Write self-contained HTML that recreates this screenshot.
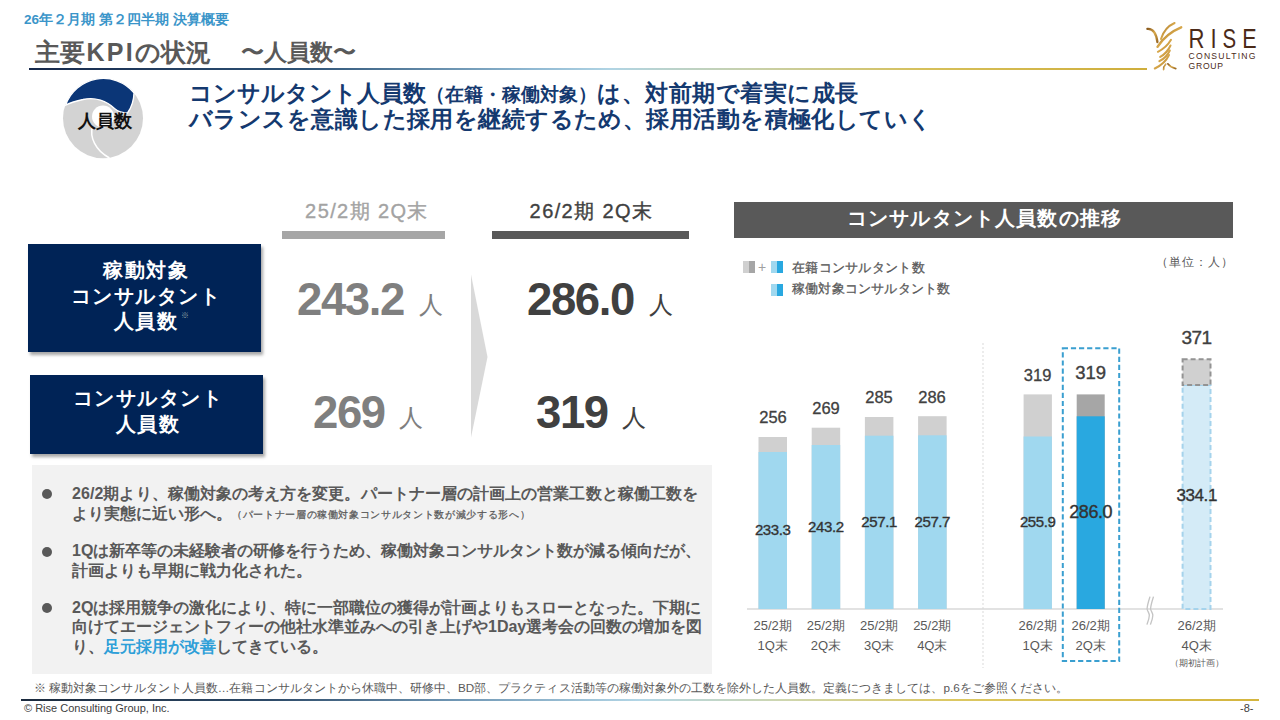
<!DOCTYPE html>
<html lang="ja">
<head>
<meta charset="utf-8">
<style>
*{margin:0;padding:0;box-sizing:border-box;}
html,body{width:1280px;height:720px;background:#fff;overflow:hidden;}
body{position:relative;font-family:"Liberation Sans",sans-serif;color:#595959;}
.a{position:absolute;white-space:nowrap;line-height:1;}
.b{font-weight:bold;}
</style>
</head>
<body>

<!-- header -->
<div class="a b" id="hdr" style="left:24px;top:13px;font-size:13.5px;color:#3a95c9;">26年２月期 第２四半期 決算概要</div>
<div class="a b" id="ttl" style="left:35px;top:39.5px;font-size:25px;color:#595959;">主要<span style="letter-spacing:2.2px;margin-left:1.5px;">KPI</span>の状況</div>
<div class="a b" id="ttl2" style="left:240.5px;top:40.5px;font-size:23px;color:#595959;">〜人員数〜</div>
<div class="a" style="left:29px;top:68px;width:1118px;height:2px;background:linear-gradient(90deg,#16284a 0%,#2e5478 25%,#8fb8d2 45%,#b0d4e4 52%,#c8d0a8 65%,#d6c05a 80%,#cfae3c 100%);"></div>

<!-- logo -->
<svg class="a" style="left:1140px;top:16px;" width="130" height="60" viewBox="1140 16 130 60">
  <defs>
    <linearGradient id="gold" x1="0" y1="0" x2="1" y2="1">
      <stop offset="0" stop-color="#8a5a1e"/>
      <stop offset="0.5" stop-color="#d8a84a"/>
      <stop offset="1" stop-color="#9a6a24"/>
    </linearGradient>
  </defs>
  <g fill="none" stroke="url(#gold)" stroke-linecap="round">
    <path d="M1147.4,28.9 Q1155.5,28.2 1157.4,42" stroke-width="2.3"/>
    <path d="M1174.6,23 Q1164.5,27.5 1161,39" stroke-width="2"/>
    <path d="M1181.2,27.3 Q1166,33.5 1157.5,46.8" stroke-width="2.4"/>
    <path d="M1171,39.8 Q1166.5,47.5 1157.9,51.8" stroke-width="2"/>
    <path d="M1170.5,45.5 Q1167,53 1160.2,56.9" stroke-width="2"/>
    <path d="M1169.8,50.5 Q1166.5,57.5 1159.4,61.2" stroke-width="2"/>
    <path d="M1169,55 Q1165,63.5 1154.8,68.5" stroke-width="2"/>
    <path d="M1165.7,64.2 Q1163.5,66.5 1163.6,69.6" stroke-width="1.6"/>
    <path d="M1167.8,63.8 Q1170.5,67.5 1175.8,68.6" stroke-width="1.6"/>
  </g>
  <g font-family="Liberation Sans" font-size="27.6" fill="#4b2a18">
    <text transform="translate(1188.6,47.5) scale(0.8,1)">R</text>
    <text transform="translate(1210.6,47.5) scale(0.8,1)">I</text>
    <text transform="translate(1222.6,47.5) scale(0.74,1)">S</text>
    <text transform="translate(1242.3,47.5) scale(0.78,1)">E</text>
  </g>
  <text x="1188.5" y="59.3" font-family="Liberation Sans" font-size="8.6" fill="#4b2a18" textLength="67" lengthAdjust="spacing">CONSULTING</text>
  <text x="1188.5" y="69.2" font-family="Liberation Sans" font-size="8.6" fill="#4b2a18" textLength="34.5" lengthAdjust="spacing">GROUP</text>
</svg>

<!-- circle icon -->
<svg class="a" style="left:60px;top:75px;" width="90" height="90" viewBox="60 75 90 90">
  <circle cx="103" cy="118.3" r="40" fill="#d3d3d3"/>
  <path d="M65.6,105.2 A40,40 0 0 1 134,92.8 C133.8,100 131.5,107.5 127.5,113 C122,113 118,111.5 114.5,108.5 C107,101 95,96.5 83,99.5 C76,101 70,103 65.6,105.2 Z" fill="#0b3677" stroke="#fff" stroke-width="1.3"/>
  <circle cx="103" cy="116.5" r="11" fill="#fff"/>
  <path d="M92.5,126 C89.5,137 95,150 109.5,158" fill="none" stroke="#fff" stroke-width="1.5"/>
</svg>
<div class="a b" id="ico" style="left:77.5px;top:112px;font-size:18px;color:#111;">人員数</div>

<!-- headline -->
<div class="a b" id="hl1" style="left:189px;top:82px;font-size:23.2px;color:#14396f;">コンサルタント人員数<span style="font-size:18.6px;">（在籍・稼働対象）</span><span style="letter-spacing:0.5px;">は、対前期で着実に成長</span></div>
<div class="a b" id="hl2" style="left:189px;top:108px;font-size:23.4px;letter-spacing:0.44px;color:#14396f;">バランスを意識した採用を継続するため、採用活動を積極化していく</div>

<!-- column headers -->
<div class="a" id="ch1" style="left:285.5px;width:163px;text-align:center;top:201px;font-size:20px;letter-spacing:1.4px;color:#a3a3a3;-webkit-text-stroke:0.35px #a3a3a3;">25/2期 2Q末</div>
<div class="a" style="left:282px;top:231px;width:163px;height:8px;background:#a6a6a6;"></div>
<div class="a" id="ch2" style="left:493px;width:197px;text-align:center;top:201px;font-size:20px;letter-spacing:1.4px;color:#404040;-webkit-text-stroke:0.35px #404040;">26/2期 2Q末</div>
<div class="a" style="left:492px;top:231px;width:197px;height:8px;background:#595959;"></div>

<!-- navy boxes -->
<div class="a" style="left:28px;top:244px;width:233px;height:108px;background:#002356;box-shadow:2px 3px 3px rgba(0,0,0,0.35);"></div>
<div class="a b" id="bx1" style="left:29.5px;top:258px;width:233px;text-align:center;font-size:20px;line-height:25.5px;letter-spacing:1.5px;color:#fff;white-space:normal;">稼動対象<br>コンサルタント<br>人員数<span style="position:absolute;font-size:7.5px;line-height:1;color:#9aa;font-weight:normal;margin-top:2.5px;margin-left:2.5px;">※</span></div>
<div class="a" style="left:30px;top:375px;width:233px;height:79px;background:#002356;box-shadow:2px 3px 3px rgba(0,0,0,0.35);"></div>
<div class="a b" id="bx2" style="left:31.5px;top:386px;width:233px;text-align:center;font-size:20px;line-height:25.8px;letter-spacing:1.5px;color:#fff;white-space:normal;">コンサルタント<br>人員数</div>

<!-- numbers -->
<div class="a b" id="n1" style="left:297px;top:276.5px;font-size:45.5px;letter-spacing:-1.4px;color:#7f7f7f;">243.2</div>
<div class="a" id="r1" style="left:419px;top:293px;font-size:24px;color:#7f7f7f;">人</div>
<div class="a b" id="n2" style="left:527px;top:276.5px;font-size:45.5px;letter-spacing:-1.4px;color:#404040;">286.0</div>
<div class="a" id="r2" style="left:649px;top:293px;font-size:24px;color:#404040;">人</div>
<div class="a b" id="n3" style="left:313px;top:389.7px;font-size:45.5px;letter-spacing:-1.4px;color:#7f7f7f;">269</div>
<div class="a" id="r3" style="left:399px;top:405.5px;font-size:24px;color:#7f7f7f;">人</div>
<div class="a b" id="n4" style="left:536px;top:389.7px;font-size:45.5px;letter-spacing:-1.4px;color:#404040;">319</div>
<div class="a" id="r4" style="left:622px;top:405.5px;font-size:24px;color:#404040;">人</div>
<svg class="a" style="left:468px;top:272px;" width="24" height="170" viewBox="468 272 24 170">
  <path d="M471,274.5 L487.5,357 L471,437.5 Z" fill="#d9d9d9"/>
</svg>

<!-- gray panel -->
<div class="a" style="left:32px;top:465px;width:680px;height:209px;background:#f2f2f2;"></div>
<div class="a" style="left:42px;top:488.5px;width:10px;height:10px;border-radius:50%;background:#595959;"></div>
<div class="a" style="left:42px;top:546.5px;width:10px;height:10px;border-radius:50%;background:#595959;"></div>
<div class="a" style="left:42px;top:603px;width:10px;height:10px;border-radius:50%;background:#595959;"></div>
<div class="a b" id="p1" style="left:72px;top:485.5px;font-size:16px;letter-spacing:0.07px;color:#595959;">26/2期より、稼働対象の考え方を変更。パートナー層の計画上の営業工数と稼働工数を</div>
<div class="a b" id="p2" style="left:72px;top:506px;font-size:16px;color:#595959;">より実態に近い形へ。<span style="font-size:10.2px;letter-spacing:0.65px;font-weight:normal;position:relative;top:-1.5px;-webkit-text-stroke:0.25px #595959;">（パートナー層の稼働対象コンサルタント数が減少する形へ）</span></div>
<div class="a b" id="p3" style="left:72px;top:543px;font-size:16px;color:#595959;">1Qは新卒等の未経験者の研修を行うため、稼働対象コンサルタント数が減る傾向だが、</div>
<div class="a b" id="p4" style="left:72px;top:563px;font-size:16px;color:#595959;">計画よりも早期に戦力化された。</div>
<div class="a b" id="p5" style="left:72px;top:600px;font-size:16px;color:#595959;">2Qは採用競争の激化により、特に一部職位の獲得が計画よりもスローとなった。下期に</div>
<div class="a b" id="p6" style="left:72px;top:619px;font-size:16px;color:#595959;">向けてエージェントフィーの他社水準並みへの引き上げや1Day選考会の回数の増加を図</div>
<div class="a b" id="p7" style="left:72px;top:638.8px;font-size:16px;color:#595959;">り、<span style="color:#2e9fd8;">足元採用が改善</span>してきている。</div>

<!-- chart -->
<div class="a" style="left:734px;top:202px;width:499px;height:36px;background:#595959;"></div>
<div class="a b" id="ct" style="left:735px;width:499px;text-align:center;top:207.5px;font-size:20px;letter-spacing:1.15px;color:#fff;">コンサルタント人員数の推移</div>

<!-- legend -->
<div class="a" style="left:743px;top:261px;width:6px;height:12px;background:#d0d0d0;"></div>
<div class="a" style="left:749px;top:261px;width:6px;height:12px;background:#a6a6a6;"></div>
<div class="a" id="plus" style="left:758px;top:260px;font-size:14px;color:#a0a0a0;">+</div>
<div class="a" style="left:771px;top:261px;width:6px;height:12px;background:#a0d8ef;"></div>
<div class="a" style="left:777px;top:261px;width:6px;height:12px;background:#29a8e0;"></div>
<div class="a" style="left:771px;top:283.5px;width:6px;height:12px;background:#a0d8ef;"></div>
<div class="a" style="left:777px;top:283.5px;width:6px;height:12px;background:#29a8e0;"></div>
<div class="a" id="lg1" style="left:792px;top:260.5px;font-size:13.2px;letter-spacing:0.28px;color:#595959;-webkit-text-stroke:0.3px #595959;">在籍コンサルタント数</div>
<div class="a" id="lg2" style="left:792px;top:282px;font-size:13.2px;letter-spacing:0.2px;color:#595959;-webkit-text-stroke:0.3px #595959;">稼働対象コンサルタント数</div>
<div class="a" id="unit" style="left:1156px;top:256px;font-size:12px;letter-spacing:1.1px;color:#595959;">（単位：人）</div>

<svg class="a" style="left:730px;top:320px;" width="510" height="360" viewBox="730 320 510 360">
  <!-- separator -->
  <line x1="983" y1="343" x2="983" y2="668" stroke="#d9d9d9" stroke-width="1" stroke-dasharray="2,2"/>
  <!-- axis -->
  <line x1="747" y1="609" x2="1223" y2="609" stroke="#d9d9d9" stroke-width="1.5"/>
  <!-- bars: gray tops -->
  <rect x="758.5" y="437" width="28.5" height="172" fill="#d0d0d0"/>
  <rect x="758.5" y="452" width="28.5" height="157" fill="#a0d8ef"/>
  <rect x="811.7" y="427.7" width="28.5" height="181.3" fill="#d0d0d0"/>
  <rect x="811.7" y="445" width="28.5" height="164" fill="#a0d8ef"/>
  <rect x="864.9" y="417" width="28.5" height="192" fill="#d0d0d0"/>
  <rect x="864.9" y="435.7" width="28.5" height="173.3" fill="#a0d8ef"/>
  <rect x="918.1" y="416.2" width="28.5" height="192.8" fill="#d0d0d0"/>
  <rect x="918.1" y="435.3" width="28.5" height="173.7" fill="#a0d8ef"/>
  <rect x="1023.6" y="394.4" width="28.3" height="214.6" fill="#d0d0d0"/>
  <rect x="1023.6" y="436.5" width="28.3" height="172.5" fill="#a0d8ef"/>
  <rect x="1076.7" y="394.4" width="28" height="214.6" fill="#a6a6a6"/>
  <rect x="1076.7" y="416.3" width="28" height="192.7" fill="#29a8e0"/>
  <!-- plan bar -->
  <rect x="1182.6" y="385" width="27.9" height="224" fill="#d4ebf7" stroke="#a5d3ec" stroke-width="2" stroke-dasharray="5,3"/>
  <rect x="1182.6" y="359.3" width="27.9" height="25.7" fill="#d0d0d0" stroke="#939393" stroke-width="2" stroke-dasharray="5,3"/>
    <!-- dashed box -->
  <rect x="1062.8" y="348.3" width="56.4" height="312.7" fill="none" stroke="#3a9fd0" stroke-width="2" stroke-dasharray="5.2,2.9"/>
  <!-- break mark -->
  <path d="M1150,596.6 C1148.6,601 1147.3,605 1147.1,608.6 C1147,611 1149.4,612.5 1149.3,615.5 C1149.2,619 1147.8,622 1146.9,624.6" fill="none" stroke="#c4c4c4" stroke-width="1.3"/>
  <path d="M1153.5,596.6 C1152.1,601 1150.8,605 1150.6,608.6 C1150.5,611 1152.9,612.5 1152.8,615.5 C1152.7,619 1151.3,622 1150.4,624.6" fill="none" stroke="#c4c4c4" stroke-width="1.3"/>
</svg>

<!-- totals -->
<div class="a" style="left:748px;width:50px;text-align:center;top:409px;font-size:16.5px;-webkit-text-stroke:0.3px #404040;color:#404040;">256</div>
<div class="a" style="left:801px;width:50px;text-align:center;top:400px;font-size:16.5px;-webkit-text-stroke:0.3px #404040;color:#404040;">269</div>
<div class="a" style="left:854px;width:50px;text-align:center;top:389px;font-size:16.5px;-webkit-text-stroke:0.3px #404040;color:#404040;">285</div>
<div class="a" style="left:907px;width:50px;text-align:center;top:388.5px;font-size:16.5px;-webkit-text-stroke:0.3px #404040;color:#404040;">286</div>
<div class="a" style="left:1012.6px;width:50px;text-align:center;top:367px;font-size:16.5px;-webkit-text-stroke:0.3px #404040;color:#404040;">319</div>
<div class="a" style="left:1065.7px;width:50px;text-align:center;top:363.5px;font-size:18.5px;-webkit-text-stroke:0.4px #404040;color:#404040;">319</div>
<div class="a" style="left:1171.6px;width:50px;text-align:center;top:328px;font-size:19px;letter-spacing:-0.5px;-webkit-text-stroke:0.4px #404040;color:#404040;">371</div>

<!-- inner values -->
<div class="a" style="left:742.7px;width:60px;text-align:center;top:522px;font-size:15px;letter-spacing:-0.4px;-webkit-text-stroke:0.35px #333;color:#333;">233.3</div>
<div class="a" style="left:795.9px;width:60px;text-align:center;top:519px;font-size:15px;letter-spacing:-0.4px;-webkit-text-stroke:0.35px #333;color:#333;">243.2</div>
<div class="a" style="left:849.1px;width:60px;text-align:center;top:513.5px;font-size:15px;letter-spacing:-0.4px;-webkit-text-stroke:0.35px #333;color:#333;">257.1</div>
<div class="a" style="left:902.3px;width:60px;text-align:center;top:513.5px;font-size:15px;letter-spacing:-0.4px;-webkit-text-stroke:0.35px #333;color:#333;">257.7</div>
<div class="a" style="left:1007.7px;width:60px;text-align:center;top:514px;font-size:15px;letter-spacing:-0.4px;-webkit-text-stroke:0.35px #333;color:#333;">255.9</div>
<div class="a" style="left:1060.7px;width:60px;text-align:center;top:503px;font-size:18px;letter-spacing:-0.4px;-webkit-text-stroke:0.35px #333;color:#333;">286.0</div>
<div class="a" style="left:1166.7px;width:60px;text-align:center;top:487px;font-size:17px;letter-spacing:-0.4px;-webkit-text-stroke:0.35px #333;color:#333;">334.1</div>

<!-- x labels -->
<div class="a" style="left:742.7px;width:60px;text-align:center;top:615.5px;font-size:13px;line-height:20px;color:#595959;white-space:normal;">25/2期<br>1Q末</div>
<div class="a" style="left:795.9px;width:60px;text-align:center;top:615.5px;font-size:13px;line-height:20px;color:#595959;white-space:normal;">25/2期<br>2Q末</div>
<div class="a" style="left:849.1px;width:60px;text-align:center;top:615.5px;font-size:13px;line-height:20px;color:#595959;white-space:normal;">25/2期<br>3Q末</div>
<div class="a" style="left:902.3px;width:60px;text-align:center;top:615.5px;font-size:13px;line-height:20px;color:#595959;white-space:normal;">25/2期<br>4Q末</div>
<div class="a" style="left:1007.7px;width:60px;text-align:center;top:615.5px;font-size:13px;line-height:20px;color:#595959;white-space:normal;">26/2期<br>1Q末</div>
<div class="a" style="left:1060.7px;width:60px;text-align:center;top:615.5px;font-size:13px;line-height:20px;color:#595959;white-space:normal;">26/2期<br>2Q末</div>
<div class="a" style="left:1166.7px;width:60px;text-align:center;top:615.5px;font-size:13px;line-height:20px;color:#595959;white-space:normal;">26/2期<br>4Q末</div>
<div class="a" style="left:1166.7px;width:60px;text-align:center;top:659px;font-size:9px;color:#595959;">（期初計画）</div>

<!-- footnote -->
<div class="a" id="fn" style="left:34px;top:682px;font-size:11.7px;letter-spacing:0.03px;color:#595959;">※ 稼動対象コンサルタント人員数…在籍コンサルタントから休職中、研修中、BD部、プラクティス活動等の稼働対象外の工数を除外した人員数。定義につきましては、p.6をご参照ください。</div>
<div class="a" style="left:21px;top:699px;width:1238px;height:2px;background:linear-gradient(90deg,#1b2a3d 0%,#2d4a68 20%,#6f96b4 35%,#b3d6e6 50%,#cfd6ad 62%,#dcc863 75%,#d4b53e 100%);"></div>
<div class="a" id="cp" style="left:24px;top:703px;font-size:11px;color:#404040;">© Rise Consulting Group, Inc.</div>
<div class="a" id="pg" style="left:1240px;top:703px;font-size:11px;color:#404040;">-8-</div>

</body>
</html>
